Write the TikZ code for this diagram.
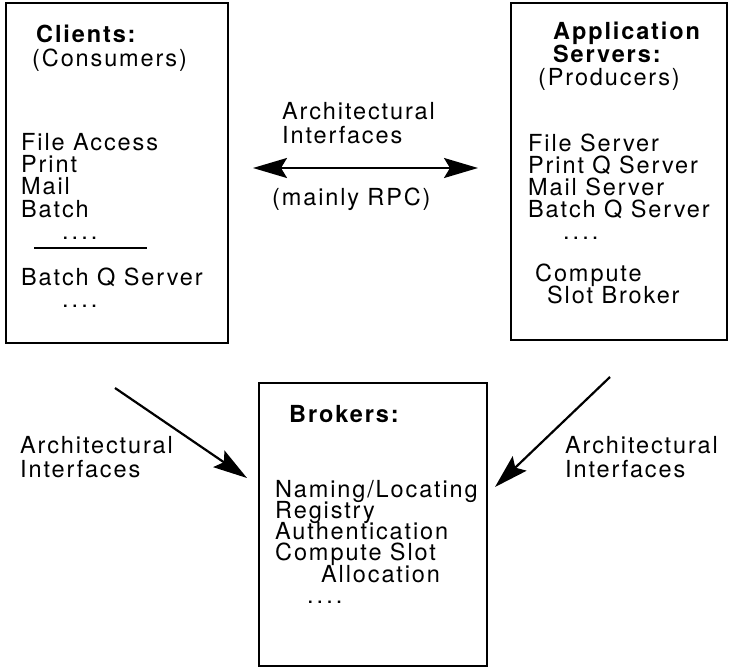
\documentclass[tikz,border=0pt]{standalone}
\usepackage{fontspec}
\setmainfont{TeX Gyre Heros}[LetterSpace=8]
\usetikzlibrary{arrows.meta,positioning}

\newcommand{\bigtext}{\fontsize{23.5}{23.5}\selectfont}
\newcommand{\etc}{.\kern3pt.\kern3pt.\kern3pt.}

\tikzset{
  big/.tip={Stealth[length=34pt,width=20pt,inset=6pt]},
  panel/.style={draw,line width=2pt,inner sep=0pt},
  entry/.style={anchor=base west,inner sep=0pt,font=\bigtext},
  title/.style={entry,font=\bigtext\bfseries},
  iface/.style={line width=2.2pt,-big}
}

\begin{document}
\begin{tikzpicture}[x=1pt,y=-1pt]
    \useasboundingbox (0,0) rectangle (729,669);

    % Three boxes
    \node [panel,minimum width=222pt,minimum height=340pt] (clients) at (117,173) {};
    \node [panel,minimum width=216pt,minimum height=337pt] (servers) at (619,171.5) {};
    \node [panel,minimum width=228pt,minimum height=283pt] (brokers) at (373,524.5) {};

    % Clients
    \node [title] (cl-title) at (36,43) {Clients:};
    \node [entry] (cl-role) at (32,67) {(Consumers)};
    \node [entry] (cl-file) at (21,150) {File Access};
    \node [entry] (cl-print) at (21,172) {Print};
    \node [entry] (cl-mail) at (21,194) {Mail};
    \node [entry] (cl-batch) at (21,217) {Batch};
    \node [entry] (cl-etc1) at (62,239) {\etc};
    \coordinate (cl-rule-l) at (34,248);
    \coordinate (cl-rule-r) at (147,248);
    \draw [line width=1.5pt] (cl-rule-l) -- (cl-rule-r);
    \node [entry] (cl-bqs) at (21,285) {Batch Q Server};
    \node [entry] (cl-etc2) at (62,307) {\etc};

    % Application servers
    \node [title] (sv-title1) at (553,40) {Application};
    \node [title] (sv-title2) at (553,63) {Servers:};
    \node [entry] (sv-role) at (538,86) {(Producers)};
    \node [entry] (sv-file) at (528,151) {File Server};
    \node [entry] (sv-print) at (528,173) {Print Q Server};
    \node [entry] (sv-mail) at (528,195) {Mail Server};
    \node [entry] (sv-batch) at (528,217) {Batch Q Server};
    \node [entry] (sv-etc) at (563,239) {\etc};
    \node [entry] (sv-comp) at (535,281) {Compute};
    \node [entry] (sv-slot) at (547,303) {Slot Broker};

    % Brokers
    \node [title] (br-title) at (289,422) {Brokers:};
    \node [entry] (br-name) at (275,497) {Naming/Locating};
    \node [entry] (br-reg) at (275,518) {Registry};
    \node [entry] (br-auth) at (275,539) {Authentication};
    \node [entry] (br-slot) at (275,560) {Compute Slot};
    \node [entry] (br-alloc) at (321,582) {Allocation};
    \node [entry] (br-etc) at (307,603) {\etc};

    % Client <-> server interface
    \node [entry] (mid-lbl1) at (282,119) {Architectural};
    \node [entry] (mid-lbl2) at (282,143) {Interfaces};
    \node [entry] (mid-rpc) at (272,205) {(mainly RPC)};
    \coordinate (mid-l) at (253,168);
    \coordinate (mid-r) at (478,168);
    \draw [iface,big-big] (mid-l) -- (mid-r);

    % Interfaces down to the brokers
    \node [entry] (left-lbl1) at (20,453) {Architectural};
    \node [entry] (left-lbl2) at (20,477) {Interfaces};
    \coordinate (left-from) at (115,388);
    \coordinate (left-to) at (247,478);
    \draw [iface] (left-from) -- (left-to);

    \node [entry] (right-lbl1) at (565,453) {Architectural};
    \node [entry] (right-lbl2) at (565,477) {Interfaces};
    \coordinate (right-from) at (610,377);
    \coordinate (right-to) at (495,487);
    \draw [iface] (right-from) -- (right-to);

\end{tikzpicture}
\end{document}
